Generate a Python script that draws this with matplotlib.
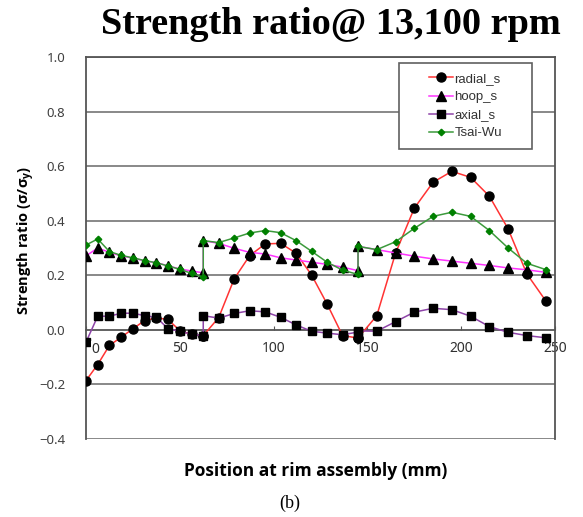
import matplotlib
matplotlib.use("Agg")
import matplotlib.pyplot as plt
from matplotlib.patches import Rectangle

# ─── Data ─────────────────────────────────────────────────────────────────────

# positions along the rim assembly (mm); the section joints appear twice
position = [0, 6.25, 12.5, 18.75, 25, 31.25, 37.5, 43.75, 50, 56.25, 62.5,
            62.5, 70.75, 79, 87.25, 95.5, 103.75, 112, 120.25, 128.5, 136.75, 145,
            145, 155, 165, 175, 185, 195, 205, 215, 225, 235, 245]

radial_s = [-0.186, -0.127, -0.057, -0.027, 0.004, 0.034, 0.044, 0.038, -0.003, -0.016, -0.022,
            -0.021, 0.045, 0.187, 0.272, 0.315, 0.317, 0.281, 0.201, 0.095, -0.021, -0.030,
            -0.030, 0.052, 0.281, 0.446, 0.541, 0.581, 0.559, 0.490, 0.370, 0.205, 0.107]

hoop_s = [0.271, 0.300, 0.284, 0.271, 0.263, 0.253, 0.246, 0.235, 0.223, 0.216, 0.209,
          0.327, 0.317, 0.299, 0.284, 0.278, 0.264, 0.256, 0.248, 0.240, 0.230, 0.217,
          0.306, 0.294, 0.282, 0.270, 0.260, 0.252, 0.244, 0.236, 0.227, 0.220, 0.211]

axial_s = [-0.045, 0.050, 0.050, 0.061, 0.061, 0.052, 0.046, 0.004, -0.005, -0.016, -0.021,
           0.052, 0.043, 0.060, 0.070, 0.066, 0.046, 0.018, -0.005, -0.012, -0.018, -0.008,
           -0.004, -0.005, 0.030, 0.065, 0.079, 0.074, 0.050, 0.012, -0.009, -0.021, -0.029]

tsai_wu = [0.311, 0.333, 0.287, 0.273, 0.264, 0.254, 0.246, 0.234, 0.222, 0.207, 0.193,
           0.327, 0.320, 0.337, 0.355, 0.364, 0.356, 0.327, 0.288, 0.248, 0.219, 0.203,
           0.306, 0.294, 0.323, 0.372, 0.416, 0.431, 0.416, 0.364, 0.300, 0.244, 0.221]

x_ticks = [0, 50, 100, 150, 200, 250]
y_ticks = [-0.4, -0.2, 0.0, 0.2, 0.4, 0.6, 0.8, 1.0]

# ─── Figure ───────────────────────────────────────────────────────────────────

fig = plt.figure(figsize=(5.83, 5.17), dpi=100)
ax = fig.add_axes([0.1475, 0.1509, 0.8045, 0.7388])

GRID = "#7f7f7f"
TICK_COLOR = "#404040"
LABEL_FONT = "Open Sans"

ax.plot(position, radial_s, color="#ff3333", lw=1.1, marker="o", ms=6.5,
        mfc="black", mec="black", label="radial_s", zorder=3)
ax.plot(position, hoop_s, color="#ff33ff", lw=1.1, marker="^", ms=6.5,
        mfc="black", mec="black", label="hoop_s", zorder=3)
ax.plot(position, axial_s, color="#8e44a8", lw=1.1, marker="s", ms=5.8,
        mfc="black", mec="black", label="axial_s", zorder=3)
ax.plot(position, tsai_wu, color="#3c9a3c", lw=1.1, marker="D", ms=3.3,
        mfc="#008000", mec="#008000", label="Tsai-Wu", zorder=3)

ax.set_xlim(0, 250)
ax.set_ylim(-0.4, 1.0)
ax.set_xticks(x_ticks)
# "0" is drawn separately, just right of the frame
ax.set_xticklabels([""] + [str(v) for v in x_ticks[1:]])
ax.set_yticks(y_ticks)
ax.set_yticklabels([f"{v:.1f}".replace("-", "\u2212") for v in y_ticks])

# horizontal gridlines and the frame
for v in y_ticks:
    if v != 0.0:
        ax.axhline(v, color=GRID, lw=1.3, zorder=1)
for side in ["left", "right", "top"]:
    ax.spines[side].set_color("#555555")
    ax.spines[side].set_linewidth(1.3)
ax.spines["bottom"].set_position(("data", 0))
ax.spines["bottom"].set_color("#555555")
ax.spines["bottom"].set_linewidth(1.3)

ax.tick_params(axis="y", length=0, pad=15, labelsize=9.5, labelcolor=TICK_COLOR)
ax.tick_params(axis="x", direction="in", length=3, color="#555555",
               pad=8, labelsize=10, labelcolor="#303030")
for lab in ax.get_xticklabels() + ax.get_yticklabels():
    lab.set_family("Noto Sans")
ax.text(3, -0.071, "0", family="Noto Sans", fontsize=10, color="#303030",
        ha="left", va="center", zorder=6,
        bbox=dict(facecolor="white", edgecolor="none", pad=0.5))

ax.set_xlabel("Position at rim assembly (mm)", family=LABEL_FONT,
              fontweight="bold", fontsize=12.5)
ax.xaxis.set_label_coords(0.49, -0.06)
ax.set_ylabel(r"Strength ratio (σ/σ$_\mathregular{y}$)", family=LABEL_FONT,
              fontweight="bold", fontsize=10.5)
ax.yaxis.set_label_coords(-0.105, 0.52)

# legend sits in its own wider box
box = Rectangle((0.667, 0.759), 0.284, 0.225, transform=ax.transAxes,
                facecolor="white", edgecolor="#606060", lw=1.2, zorder=4)
ax.add_patch(box)
leg = ax.legend(loc="center", bbox_to_anchor=(0.809, 0.8715), frameon=False,
                prop={"family": "Liberation Sans", "size": 9.5},
                handlelength=1.8, handletextpad=0.15, labelspacing=0.45,
                borderpad=0)
leg.set_zorder(5)
for t in leg.get_texts():
    t.set_color("#333333")

fig.text(0.568, 0.953, "Strength ratio@ 13,100 rpm", family="Liberation Serif",
         fontweight="bold", fontsize=27.5, ha="center", va="center")
fig.text(0.497, 0.027, "(b)", family="Liberation Serif", fontsize=13,
         ha="center", va="center")

fig.savefig("out.png", dpi=100)
